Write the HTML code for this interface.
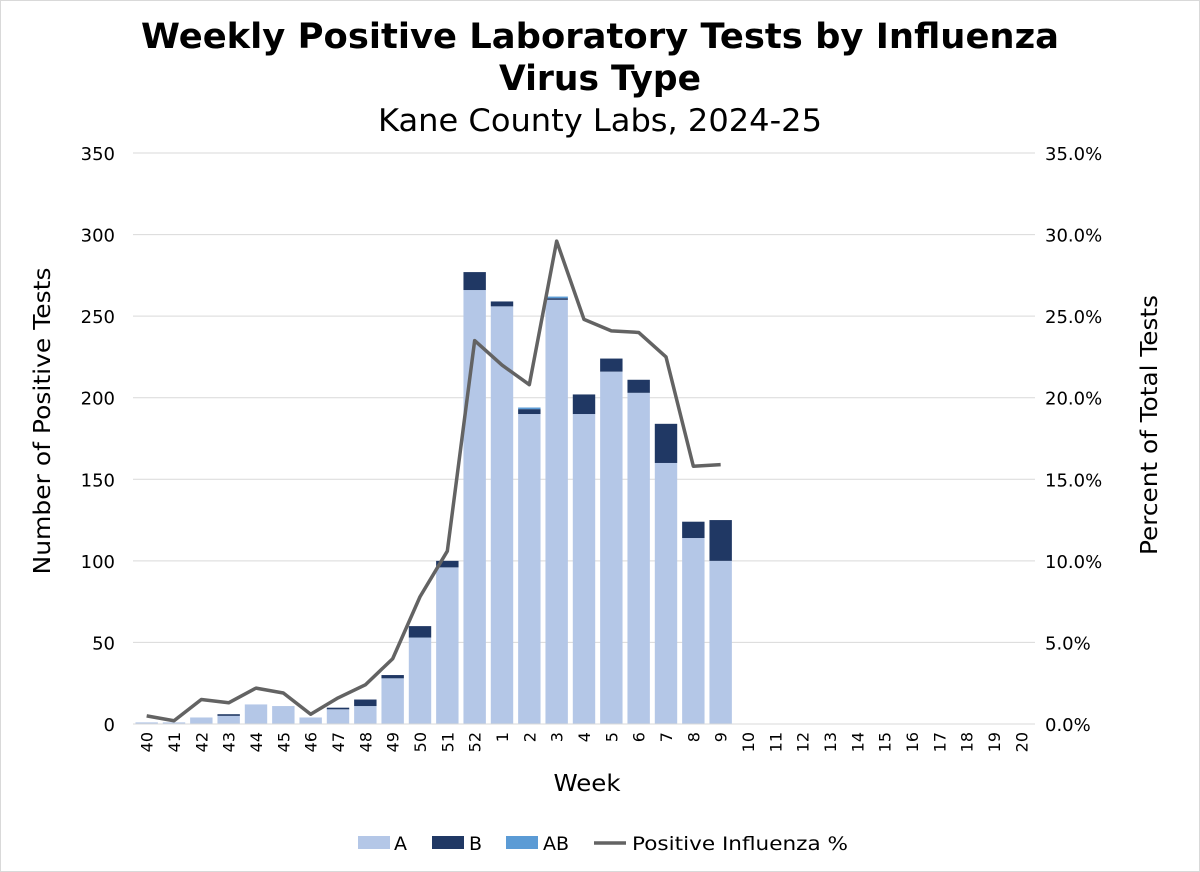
<!DOCTYPE html>
<html><head><meta charset="utf-8"><style>
body{margin:0;background:#fff}
svg{display:block;font-family:"DejaVu Sans","Liberation Sans",sans-serif}
</style></head><body>
<svg id="c" width="1200" height="872">
<rect x="0.5" y="0.5" width="1199" height="871" fill="#fff" stroke="#d9d9d9"/>
<text x="600" y="48" text-anchor="middle" font-size="35" font-weight="bold" textLength="918" lengthAdjust="spacingAndGlyphs">Weekly Positive Laboratory Tests by Influenza</text>
<text x="600" y="90" text-anchor="middle" font-size="35" font-weight="bold" textLength="202" lengthAdjust="spacingAndGlyphs">Virus Type</text>
<text x="600" y="131" text-anchor="middle" font-size="31" textLength="444" lengthAdjust="spacingAndGlyphs">Kane County Labs, 2024-25</text>
<g id="grid"></g><g id="bars"></g><g id="line"></g><g id="axes"></g>
<text transform="translate(50,421) rotate(-90)" text-anchor="middle" font-size="23" textLength="307" lengthAdjust="spacingAndGlyphs">Number of Positive Tests</text>
<text transform="translate(1157,425) rotate(-90)" text-anchor="middle" font-size="23" textLength="260" lengthAdjust="spacingAndGlyphs">Percent of Total Tests</text>
<text x="587" y="791" text-anchor="middle" font-size="23" textLength="67" lengthAdjust="spacingAndGlyphs">Week</text>
<g font-size="19">
<rect x="358" y="836" width="32" height="13" fill="#b4c7e7"/><text x="394" y="850">A</text>
<rect x="432" y="836" width="32" height="13" fill="#203864"/><text x="469" y="850">B</text>
<rect x="506" y="836" width="32" height="13" fill="#5b9bd5"/><text x="543" y="850">AB</text>
<line x1="594" y1="843" x2="626" y2="843" stroke="#636363" stroke-width="3.5"/><text x="632" y="850" textLength="216" lengthAdjust="spacingAndGlyphs">Positive Influenza %</text>
</g>
</svg>
<script>
const weeks=["40","41","42","43","44","45","46","47","48","49","50","51","52","1","2","3","4","5","6","7","8","9","10","11","12","13","14","15","16","17","18","19","20"];
const seriesA=[1,1,4,5,12,11,4,9,11,28,53,96,266,256,190,260,190,216,203,160,114,100];
const seriesB=[0,0,0,1,0,0,0,1,4,2,7,4,11,3,3,1,12,8,8,24,10,25];
const seriesAB=[0,0,0,0,0,0,0,0,0,0,0,0,0,0,1,1,0,0,0,0,0,0];
const pct=[0.5,0.2,1.5,1.3,2.2,1.9,0.6,1.6,2.4,4.0,7.8,10.6,23.5,22.0,20.8,29.6,24.8,24.1,24.0,22.5,15.8,15.9];
const leftTicks=[0,50,100,150,200,250,300,350];
const rightTicks=[0,5,10,15,20,25,30,35];
const NS="http://www.w3.org/2000/svg";
const X0=133,X1=1035,Y0=724,Y1=153;
const bw=(X1-X0)/weeks.length;
const y=v=>Y0-(v/350)*(Y0-Y1);
const y2=v=>Y0-(v/35)*(Y0-Y1);
const xc=i=>X0+bw*(i+0.5);
function mk(t,a,p){const e=document.createElementNS(NS,t);for(const k in a)e.setAttribute(k,a[k]);p.appendChild(e);return e;}
const G=document.getElementById('grid'),B=document.getElementById('bars'),L=document.getElementById('line'),A=document.getElementById('axes');
leftTicks.forEach((t,i)=>{
 if(t>0){const g=mk('line',{x1:X0,x2:X1,y1:y(t),y2:y(t),stroke:'#d9d9d9','stroke-width':1},G);
 
 }
 const l=mk('text',{x:115,y:y(t)+7,'text-anchor':'end','font-size':18},A);l.textContent=t;
 
 
});
rightTicks.forEach(t=>{
 const l=mk('text',{x:1045,y:y2(t)+7,'font-size':18},A);l.textContent=t.toFixed(1)+'%';
 
 
});
const ax=mk('line',{x1:X0,x2:X1,y1:Y0,y2:Y0,stroke:'#d9d9d9','stroke-width':1},A);


weeks.forEach((w,i)=>{
 const l=mk('text',{'text-anchor':'end','font-size':16,transform:`translate(${xc(i)+6},${Y0+8}) rotate(-90)`},A);l.textContent=w;
 
 
});
const w=bw*0.82;
seriesA.forEach((a,i)=>{
 const segs=[[a,'#b4c7e7','bar-a'],[seriesB[i],'#203864','bar-b'],[seriesAB[i],'#5b9bd5','bar-ab']];
 let base=0;
 segs.forEach(s=>{ if(s[0]>0){
  const r=mk('rect',{x:xc(i)-w/2,y:y(base+s[0]),width:w,height:y(base)-y(base+s[0]),fill:s[1]},B);
  
  
  base+=s[0];}});
});
const p=mk('polyline',{points:pct.map((v,i)=>xc(i)+','+y2(v)).join(' '),fill:'none',stroke:'#636363','stroke-width':3.5,'stroke-linejoin':'round'},L);


</script>
</body></html>
